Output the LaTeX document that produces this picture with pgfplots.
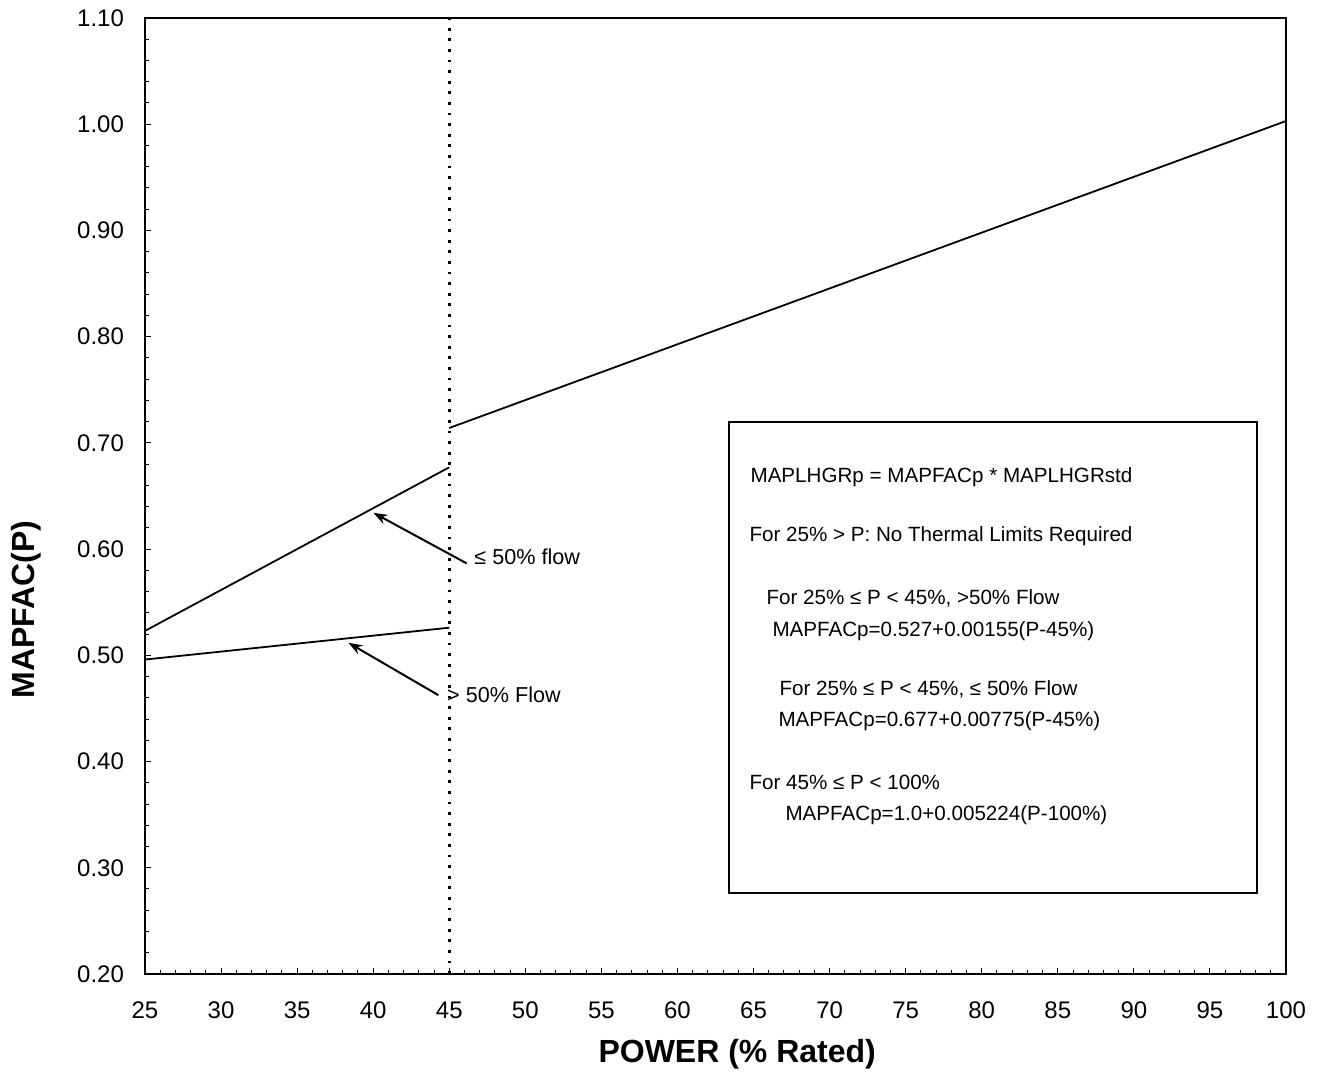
\documentclass[border=0pt]{standalone}
\usepackage{pgfplots}
\pgfplotsset{compat=1.18}
\usepackage{fontspec}
\setmainfont{Liberation Sans}
\usetikzlibrary{arrows.meta}
\begin{document}
\begin{tikzpicture}
\begin{axis}[
  scale only axis,
  width=570.5pt, height=478pt,
  xmin=25, xmax=100, ymin=0.2, ymax=1.1,
  xtick={25,30,...,100},
  ytick={0.2,0.3,...,1.1},
  minor tick num=4,
  tick pos=left,
  tick align=inside,
  major tick length=3pt,
  minor tick length=2pt,
  tick style={black, line width=0.5pt},
  axis line style={line width=1.1pt},
  /pgf/number format/assume math mode=true,
  yticklabel style={/pgf/number format/fixed, /pgf/number format/fixed zerofill, /pgf/number format/precision=2, font=\fontsize{12}{14}\selectfont},
  xticklabel style={font=\fontsize{12}{14}\selectfont, text height=8.8pt, text depth=0pt},
  xticklabel shift=10pt,
  yticklabel shift=7pt,
  xlabel={POWER (\% Rated)},
  ylabel={MAPFAC(P)},
  xlabel style={font=\bfseries\fontsize{16}{19}\selectfont, at={(axis description cs:0.519,0)}, anchor=north, yshift=-29pt},
  ylabel style={font=\bfseries\fontsize{16}{19}\selectfont, at={(axis description cs:0,0.381)}, anchor=center, yshift=59.5pt},
  clip=false,
]
% dotted vertical line at 45%
\addplot[black, line width=1.5pt, dash pattern=on 1.4pt off 3.9pt] coordinates {(45,0.2) (45,1.1)};
% > 50% flow
\addplot[black, line width=0.9pt] coordinates {(25,0.496) (45,0.526)};
% <= 50% flow
\addplot[black, line width=0.9pt] coordinates {(25,0.523) (45,0.677)};
% 45% <= P < 100%
\addplot[black, line width=0.9pt] coordinates {(45,0.714) (100,1.003)};
% arrows
\draw[black, line width=1pt, -{Stealth[length=7pt,width=5pt]}] (axis cs:46.15,0.5865) -- (axis cs:40.01,0.6342);
\draw[black, line width=1pt, -{Stealth[length=7pt,width=5pt]}] (axis cs:44.28,0.4625) -- (axis cs:38.37,0.5118);
\node[anchor=west, inner sep=0pt, font=\fontsize{10.8}{13}\selectfont] at (axis cs:46.63,0.5927) {≤ 50\% flow};
\node[anchor=west, inner sep=0pt, font=\fontsize{10.8}{13}\selectfont] at (axis cs:44.84,0.4625) {> 50\% Flow};
% text box
\draw[black, line width=1pt] (axis cs:63.4,0.720) rectangle (axis cs:98.1,0.276);
\begin{scope}[every node/.style={anchor=west, inner sep=0pt, font=\fontsize{10.3}{12}\selectfont}]
\node at (axis cs:64.78,0.6678) {MAPLHGRp = MAPFACp * MAPLHGRstd};
\node at (axis cs:64.71,0.6122) {For 25\% > P: No Thermal Limits Required};
\node at (axis cs:65.83,0.5539) {For 25\% ≤ P < 45\%, >50\% Flow};
\node at (axis cs:66.22,0.5228) {MAPFACp=0.527+0.00155(P-45\%)};
\node at (axis cs:66.68,0.4682) {For 25\% ≤ P < 45\%, ≤ 50\% Flow};
\node at (axis cs:66.62,0.4380) {MAPFACp=0.677+0.00775(P-45\%)};
\node at (axis cs:64.71,0.3806) {For 45\% ≤ P < 100\%};
\node at (axis cs:67.08,0.3495) {MAPFACp=1.0+0.005224(P-100\%)};
\end{scope}
\end{axis}
\pgfresetboundingbox
\path ([shift={(-72.5pt,-52pt)}]current axis.south west) rectangle ([shift={(17.5pt,9pt)}]current axis.north east);
\end{tikzpicture}
\end{document}
